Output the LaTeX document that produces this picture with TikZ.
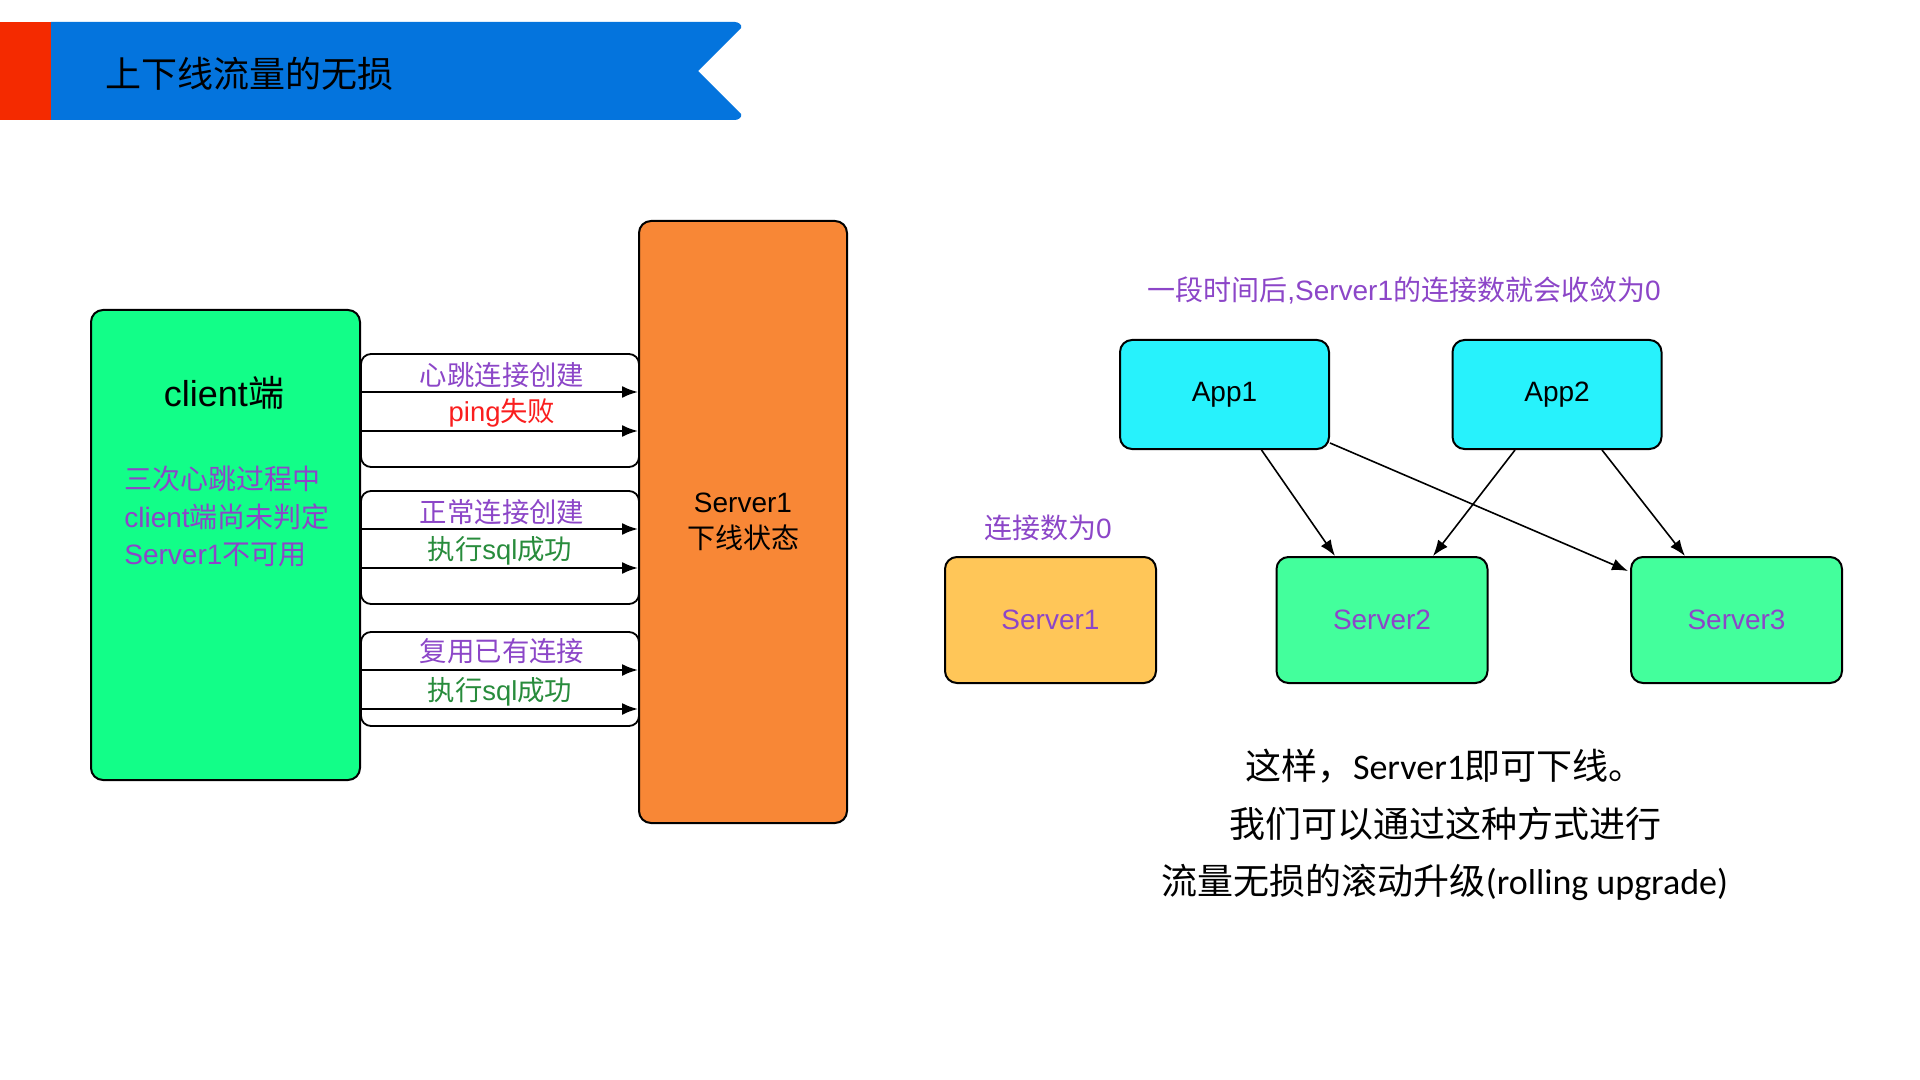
\documentclass[tikz,border=0pt]{standalone}
\usepackage{fontspec}
\setmainfont{Liberation Sans}
\newfontfamily\cjk{Noto Sans CJK SC}
\newfontfamily\calfont{Carlito}
\usetikzlibrary{arrows.meta,calc}
\definecolor{hdrred}{RGB}{244,42,0}
\definecolor{hdrblue}{RGB}{4,116,221}
\definecolor{cligreen}{RGB}{18,254,136}
\definecolor{srvorange}{RGB}{248,135,54}
\definecolor{txtpurple}{RGB}{140,70,200}
\definecolor{txtgreen}{RGB}{40,140,60}
\definecolor{txtred}{RGB}{250,30,30}
\definecolor{appcyan}{RGB}{39,242,252}
\definecolor{s1yellow}{RGB}{255,198,88}
\definecolor{s23green}{RGB}{67,255,156}
\tikzset{
  box/.style={draw=black, line width=1pt, rounded corners=6pt, inner sep=0pt},
  grp/.style={draw=black, line width=0.9pt, rounded corners=5pt, fill=white, inner sep=0pt, minimum width=139pt},
  arr/.style={line width=1pt, -{Latex[length=8pt,width=6pt]}},
  arrb/.style={line width=0.8pt, -{Latex[length=8pt,width=6pt]}},
  lbl/.style={font=\fontsize{13.7}{16}\selectfont\cjk, inner sep=0pt},
  mid/.style={font=\fontsize{14}{17}\selectfont, inner sep=0pt}
}
\begin{document}
\begin{tikzpicture}[x=0.5pt,y=-0.5pt]
\fill[white] (0,0) rectangle (1920,1080);
\useasboundingbox (0,0) rectangle (1920,1080);
% header
\fill[hdrblue] (51,22) -- (735,22) to[out=0,in=60] (741,28) -- (698,71) -- (741,114) to[out=-60,in=0] (735,120) -- (51,120) -- cycle;
\fill[hdrred] (0,22) rectangle (51,120);
\node[anchor=west, inner sep=0pt, font=\fontsize{18}{22}\selectfont\cjk] (title) at (105,74) {上下线流量的无损};
% groups
\node[grp, minimum height=56.5pt] (g1) at (500,410.5) {};
\node[grp, minimum height=56.5pt] (g2) at (500,547.5) {};
\node[grp, minimum height=47pt] (g3) at (500,679) {};
% big boxes
\node[box, fill=cligreen, minimum width=134.5pt, minimum height=235pt] (client) at (225.5,545) {};
\node[box, fill=srvorange, minimum width=104pt, minimum height=301pt, align=center, font=\fontsize{14}{18}\selectfont] (srv) at (743,522) {Server1\\{\cjk 下线状态}};
\node[inner sep=0pt, font=\fontsize{18}{22}\selectfont] (clientlbl) at (224,393) {client{\cjk 端}};
\node[anchor=west, inner sep=0pt, text=txtpurple, font=\fontsize{14}{17}\selectfont\cjk] (c1) at (124,479) {三次心跳过程中};
\node[anchor=west, inner sep=0pt, text=txtpurple, font=\fontsize{14}{17}\selectfont] (c2) at (124,517) {client{\cjk 端尚未判定}};
\node[anchor=west, inner sep=0pt, text=txtpurple, font=\fontsize{14}{17}\selectfont] (c3) at (124,555) {Server1{\cjk 不可用}};
% arrows
\coordinate (y1) at (500,392);
\coordinate (y2) at (500,431);
\coordinate (y3) at (500,529);
\coordinate (y4) at (500,568);
\coordinate (y5) at (500,670);
\coordinate (y6) at (500,709);
\foreach \c in {y1,y2,y3,y4,y5,y6}
  \draw[arr] (\c -| client.east) -- (\c -| srv.west);
% labels
\node[lbl, text=txtpurple] (l1) at (502,375) {心跳连接创建};
\node[lbl, text=txtred, font=\fontsize{13.7}{16}\selectfont] (l2) at (502,413) {ping{\cjk 失败}};
\node[lbl, text=txtpurple] (l3) at (502,512) {正常连接创建};
\node[lbl, text=txtgreen, font=\fontsize{13.7}{16}\selectfont] (l4) at (500,551) {{\cjk 执行}sql{\cjk 成功}};
\node[lbl, text=txtpurple] (l5) at (502,651) {复用已有连接};
\node[lbl, text=txtgreen, font=\fontsize{13.7}{16}\selectfont] (l6) at (500,692) {{\cjk 执行}sql{\cjk 成功}};
% right part
\node[mid, text=txtpurple] (rtitle) at (1404,290) {{\cjk 一段时间后},Server1{\cjk 的连接数就会收敛为}0};
\node[box, fill=appcyan, minimum width=104.5pt, minimum height=54.5pt, font=\fontsize{14}{17}\selectfont] (app1) at (1224.5,394.5) {App1};
\node[box, fill=appcyan, minimum width=104.5pt, minimum height=54.5pt, font=\fontsize{14}{17}\selectfont] (app2) at (1557,394.5) {App2};
\node[box, fill=s1yellow, minimum width=105.5pt, minimum height=63pt, text=txtpurple, font=\fontsize{14}{17}\selectfont] (rs1) at (1050.5,620) {Server1};
\node[box, fill=s23green, minimum width=105.5pt, minimum height=63pt, text=txtpurple, font=\fontsize{14}{17}\selectfont] (rs2) at (1382,620) {Server2};
\node[box, fill=s23green, minimum width=105.5pt, minimum height=63pt, text=txtpurple, font=\fontsize{14}{17}\selectfont] (rs3) at (1736.5,620) {Server3};
\node[mid, text=txtpurple] (zero) at (1048,528) {{\cjk 连接数为}0};
\draw[arrb] ($(app1.south)+(37,0)$) -- ($(rs2.north)+(-47,0)$);
\draw[arrb] ($(app1.south east)+(0,-7)$) -- ($(rs3.north west)+(-2,15)$);
\draw[arrb] ($(app2.south)+(-42,0)$) -- ($(rs2.north)+(51,0)$);
\draw[arrb] ($(app2.south)+(45,0)$) -- ($(rs3.north)+(-51.5,0)$);
% bottom text
\node[align=center, inner sep=0pt, font=\fontsize{18}{28.75}\selectfont\calfont] (bottom) at (1445,825)
  {{\cjk 这样，}Server1{\cjk 即可下线。}\\{\cjk 我们可以通过这种方式进行}\\{\cjk 流量无损的滚动升级}(rolling upgrade)};
\end{tikzpicture}
\end{document}
